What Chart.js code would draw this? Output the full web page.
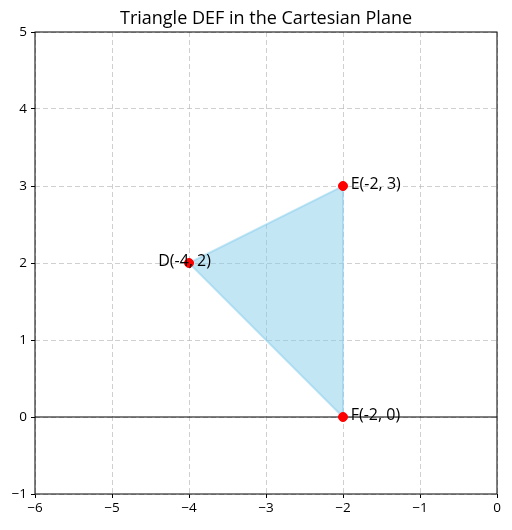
<!DOCTYPE html>
<html>
<head>
<meta charset="utf-8">
<script src="https://cdn.jsdelivr.net/npm/chart.js@4"></script>
<style>
  html, body { margin: 0; padding: 0; background: #fff; }
  #wrap { width: 512px; height: 530px; }
</style>
</head>
<body>
<div id="wrap"><canvas id="c"></canvas></div>
<script>
// ---- data ----
const pointNames = ['D', 'E', 'F'];
const pointX = [-4, -2, -2];
const pointY = [2, 3, 0];
const xTicks = [-6, -5, -4, -3, -2, -1, 0];
const yTicks = [-1, 0, 1, 2, 3, 4, 5];
const titleText = 'Triangle DEF in the Cartesian Plane';

const vertices = pointX.map((x, i) => ({ x: x, y: pointY[i] }));
const triangle = vertices.concat([vertices[0]]);
const axisLine = [{ x: xTicks[0], y: 0 }, { x: xTicks[xTicks.length - 1], y: 0 }];

const FONT = '"Open Sans", Roboto, "DejaVu Sans", sans-serif';
const minus = v => (v < 0 ? '\u2212' + Math.abs(v) : String(v));

const framePlugin = {
  id: 'frame',
  afterDatasetsDraw(chart) {
    const { ctx, chartArea: a } = chart;
    ctx.save();
    ctx.strokeStyle = '#000';
    ctx.lineWidth = 1;
    ctx.strokeRect(a.left, a.top, a.right - a.left, a.bottom - a.top);
    ctx.restore();
  },
  afterDraw(chart) {
    const { ctx, chartArea: a } = chart;
    const xs = chart.scales.x, ys = chart.scales.y;
    ctx.save();
    // title centred over the plot area
    ctx.font = '18px ' + FONT;
    ctx.fillStyle = '#000';
    ctx.textAlign = 'center';
    ctx.textBaseline = 'alphabetic';
    ctx.fillText(titleText, (a.left + a.right) / 2, 23.5);
    // point labels
    const dx = [-0.4, 0.1, 0.1];
    const dy = [3, 3, 3];
    ctx.font = '16px ' + FONT;
    ctx.textAlign = 'left';
    pointNames.forEach((n, i) => {
      const label = n + '(' + pointX[i] + ', ' + pointY[i] + ')';
      ctx.fillText(label, xs.getPixelForValue(pointX[i] + dx[i]), ys.getPixelForValue(pointY[i]) + dy[i]);
    });
    ctx.restore();
  }
};

const gridOpts = {
  color: 'rgba(176,176,176,0.75)',
  lineWidth: 0.8,
  tickColor: '#000',
  tickLength: 4,
  tickWidth: 1,
  tickBorderDash: [],
  drawTicks: true
};

new Chart(document.getElementById('c'), {
  type: 'scatter',
  data: {
    datasets: [
      {
        label: 'Triangle',
        data: triangle,
        showLine: true,
        fill: 'shape',
        backgroundColor: 'rgba(135,206,235,0.5)',
        borderColor: 'rgba(135,206,235,0.5)',
        borderWidth: 2,
        pointRadius: 0,
        tension: 0,
        order: 3
      },
      {
        label: 'y=0',
        data: axisLine,
        showLine: true,
        fill: false,
        borderColor: '#000',
        borderWidth: 1.2,
        pointRadius: 0,
        order: 2
      },
      {
        label: 'Points',
        data: vertices,
        showLine: false,
        backgroundColor: '#ff0000',
        borderColor: '#ff0000',
        pointRadius: 4.5,
        pointHoverRadius: 4.5,
        order: 1
      }
    ]
  },
  options: {
    responsive: true,
    maintainAspectRatio: false,
    animation: false,
    events: [],
    layout: { padding: { left: 0, right: 15, top: 32, bottom: 0 } },
    plugins: {
      legend: { display: false },
      tooltip: { enabled: false },
      title: { display: false }
    },
    scales: {
      x: {
        type: 'linear',
        min: xTicks[0],
        max: xTicks[xTicks.length - 1],
        afterBuildTicks: s => { s.ticks = xTicks.map(v => ({ value: v })); },
        afterFit: s => { s.height = 36; },
        ticks: {
          color: '#000',
          font: { family: FONT, size: 13.5 },
          padding: 2,
          maxRotation: 0,
          callback: v => minus(v)
        },
        grid: gridOpts,
        border: { display: false, dash: [5, 3] }
      },
      y: {
        type: 'linear',
        min: yTicks[0],
        max: yTicks[yTicks.length - 1],
        afterBuildTicks: s => { s.ticks = yTicks.map(v => ({ value: v })); },
        afterFit: s => { s.width = 35; },
        ticks: {
          color: '#000',
          font: { family: FONT, size: 13.5 },
          padding: 4,
          callback: v => minus(v)
        },
        grid: gridOpts,
        border: { display: false, dash: [5, 3] }
      }
    }
  },
  plugins: [framePlugin]
});
</script>
</body>
</html>
